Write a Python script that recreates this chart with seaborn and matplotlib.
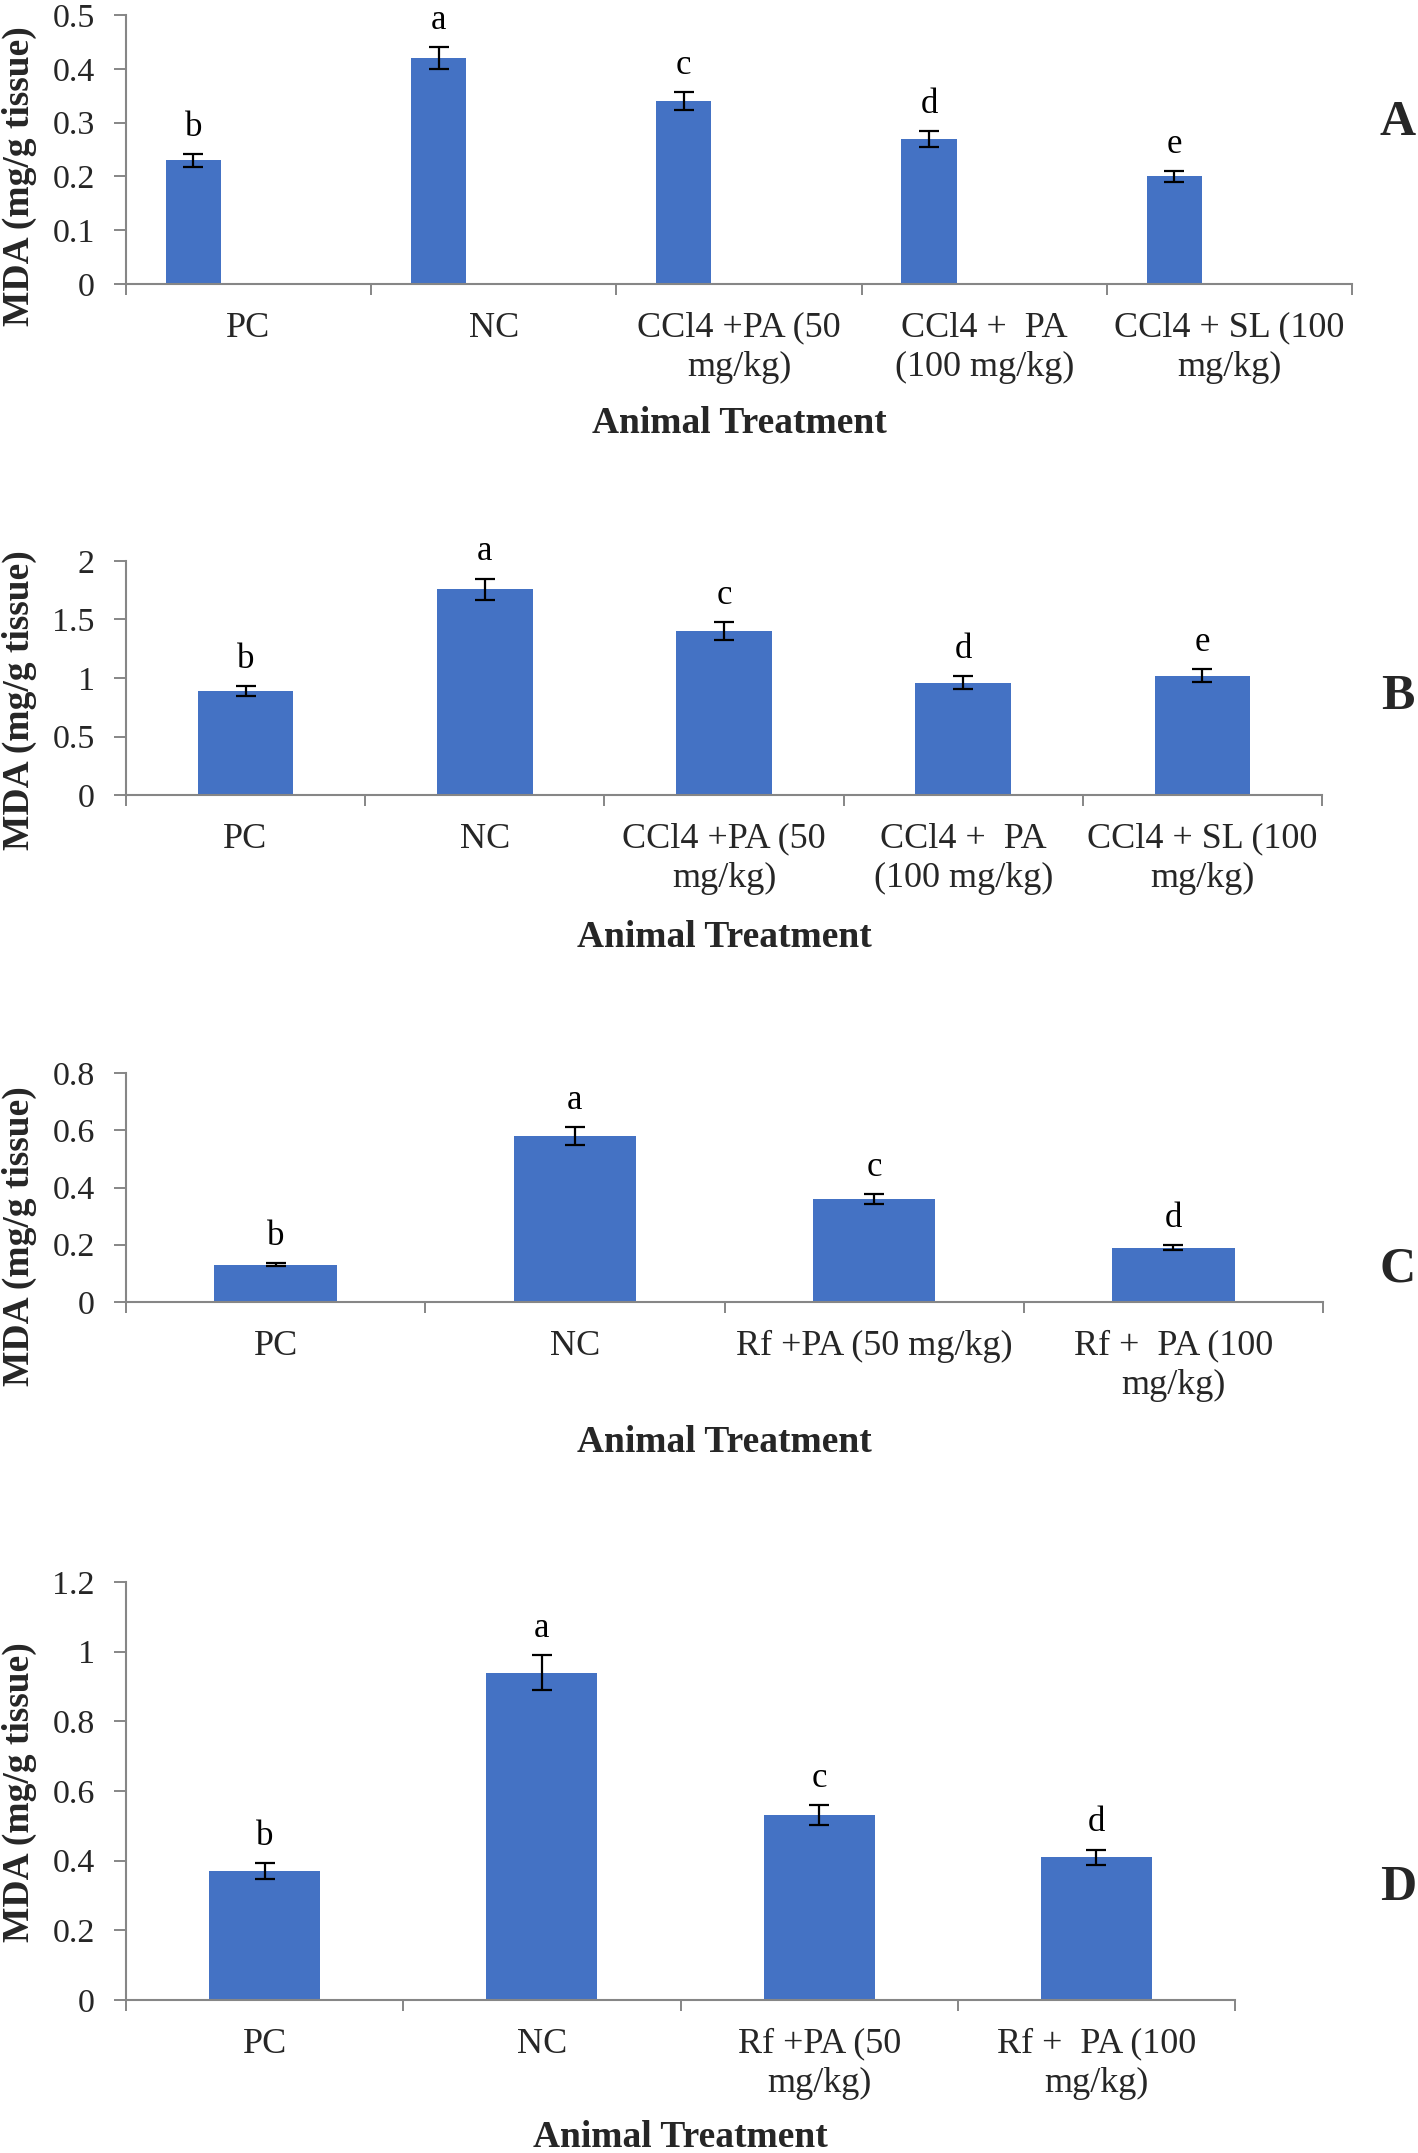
import numpy as np
import pandas as pd
import matplotlib
matplotlib.use("Agg")
import matplotlib.pyplot as plt
import seaborn as sns

# ---------------- data ----------------
cats_A = ["PC", "NC", "CCl4 +PA (50\nmg/kg)", "CCl4 +  PA\n(100 mg/kg)", "CCl4 + SL (100\nmg/kg)"]
mda_A = [0.23, 0.42, 0.34, 0.27, 0.20]
err_A = [0.012, 0.021, 0.016, 0.015, 0.010]
sig_A = ["b", "a", "c", "d", "e"]

cats_B = ["PC", "NC", "CCl4 +PA (50\nmg/kg)", "CCl4 +  PA\n(100 mg/kg)", "CCl4 + SL (100\nmg/kg)"]
mda_B = [0.89, 1.76, 1.40, 0.96, 1.02]
err_B = [0.045, 0.09, 0.075, 0.057, 0.057]
sig_B = ["b", "a", "c", "d", "e"]

cats_C = ["PC", "NC", "Rf +PA (50 mg/kg)", "Rf +  PA (100\nmg/kg)"]
mda_C = [0.13, 0.58, 0.36, 0.19]
err_C = [0.005, 0.032, 0.017, 0.010]
sig_C = ["b", "a", "c", "d"]

cats_D = ["PC", "NC", "Rf +PA (50\nmg/kg)", "Rf +  PA (100\nmg/kg)"]
mda_D = [0.37, 0.94, 0.53, 0.41]
err_D = [0.022, 0.050, 0.029, 0.022]
sig_D = ["b", "a", "c", "d"]

yticks_A = [0, 0.1, 0.2, 0.3, 0.4, 0.5]
yticks_B = [0, 0.5, 1, 1.5, 2]
yticks_C = [0, 0.2, 0.4, 0.6, 0.8]
yticks_D = [0, 0.2, 0.4, 0.6, 0.8, 1, 1.2]

panel_letters = ["A", "B", "C", "D"]
ylabel_text = "MDA (mg/g tissue)"
xlabel_text = "Animal Treatment"

# ---------------- style ----------------
sns.set_style("white")
plt.rcParams["font.family"] = ["Liberation Serif", "DejaVu Serif"]

BLUE = "#4472C4"
AXC = "#868686"
W, H = 1418, 2153
fig = plt.figure(figsize=(W / 100, H / 100), dpi=100)


def rect(l, r, t, b):
    return [l / W, 1 - b / H, (r - l) / W, (b - t) / H]


panels = [
    dict(cats=cats_A, v=mda_A, e=err_A, s=sig_A, yt=yticks_A, r=rect(126, 1352, 15, 284),
         width=0.675, slots=3, ylab_y=0.40, xlab_y=-0.517, letter_y=123),
    dict(cats=cats_B, v=mda_B, e=err_B, s=sig_B, yt=yticks_B, r=rect(126, 1322, 561, 795),
         width=0.40, slots=1, ylab_y=0.406, xlab_y=-0.607, letter_y=697),
    dict(cats=cats_C, v=mda_C, e=err_C, s=sig_C, yt=yticks_C, r=rect(126, 1323, 1073, 1302),
         width=0.41, slots=1, ylab_y=0.288, xlab_y=-0.612, letter_y=1269),
    dict(cats=cats_D, v=mda_D, e=err_D, s=sig_D, yt=yticks_D, r=rect(126, 1235, 1582, 2000),
         width=0.40, slots=1, ylab_y=0.498, xlab_y=-0.33, letter_y=1888),
]

for p, letter in zip(panels, panel_letters):
    ax = fig.add_axes(p["r"])
    n = len(p["cats"])
    df = pd.DataFrame({"cat": p["cats"], "MDA": p["v"], "series": ["MDA"] * n})
    if p["slots"] > 1:
        levels = ["MDA"] + [f"_s{i}" for i in range(1, p["slots"])]
        sns.barplot(data=df, x="cat", y="MDA", hue="series", hue_order=levels,
                    palette={l: BLUE for l in levels}, order=p["cats"], width=p["width"],
                    dodge=True, errorbar=None, legend=False, ax=ax, saturation=1,
                    edgecolor="none", linewidth=0)
    else:
        sns.barplot(data=df, x="cat", y="MDA", order=p["cats"], color=BLUE, width=p["width"],
                    errorbar=None, ax=ax, saturation=1, edgecolor="none", linewidth=0)

    bars = [b for b in ax.patches if b.get_height() > 0]
    bars.sort(key=lambda b: b.get_x())
    xs = [b.get_x() + b.get_width() / 2 for b in bars]

    ax.errorbar(xs, p["v"], yerr=p["e"], fmt="none", ecolor="black",
                elinewidth=1.6, capsize=7, capthick=1.6, zorder=5)
    for x, v, e, s in zip(xs, p["v"], p["e"], p["s"]):
        ax.annotate(s, (x, v + e), xytext=(0, 13), textcoords="offset points",
                    ha="center", va="baseline", fontsize=25, color="black")

    ax.set_xlim(-0.5, n - 0.5)
    ax.set_ylim(0, p["yt"][-1])
    ax.set_yticks(p["yt"])
    ax.set_yticklabels([f"{t:g}" for t in p["yt"]])

    ax.set_xticks(np.arange(n + 1) - 0.5)
    ax.set_xticklabels([""] * (n + 1))
    ax.set_xticks(np.arange(n), minor=True)
    ax.set_xticklabels(p["cats"], minor=True, fontsize=26, linespacing=1.25)
    ax.tick_params(axis="x", which="major", length=8, width=1.4, color=AXC, direction="out", bottom=True)
    ax.tick_params(axis="x", which="minor", length=0, pad=20, bottom=True)
    ax.tick_params(axis="y", which="major", length=8.5, width=1.4, color=AXC, direction="out",
                   pad=14, labelsize=24.5, left=True)

    for sp in ["top", "right"]:
        ax.spines[sp].set_visible(False)
    for sp in ["left", "bottom"]:
        ax.spines[sp].set_color(AXC)
        ax.spines[sp].set_linewidth(1.5)

    axw = p["r"][2] * W
    ax.set_ylabel(ylabel_text, fontsize=27, fontweight="bold")
    ax.yaxis.set_label_coords(-107 / axw, p["ylab_y"])
    ax.yaxis.label.set_va("center")
    ax.yaxis.label.set_ha("center")

    ax.set_xlabel(xlabel_text, fontsize=27, fontweight="bold")
    ax.xaxis.set_label_coords(0.5, p["xlab_y"])
    ax.xaxis.label.set_va("center")

    fig.text(1398 / W, 1 - p["letter_y"] / H, letter, fontsize=36, fontweight="bold",
             ha="center", va="center")

fig.savefig("out.png", dpi=100)
